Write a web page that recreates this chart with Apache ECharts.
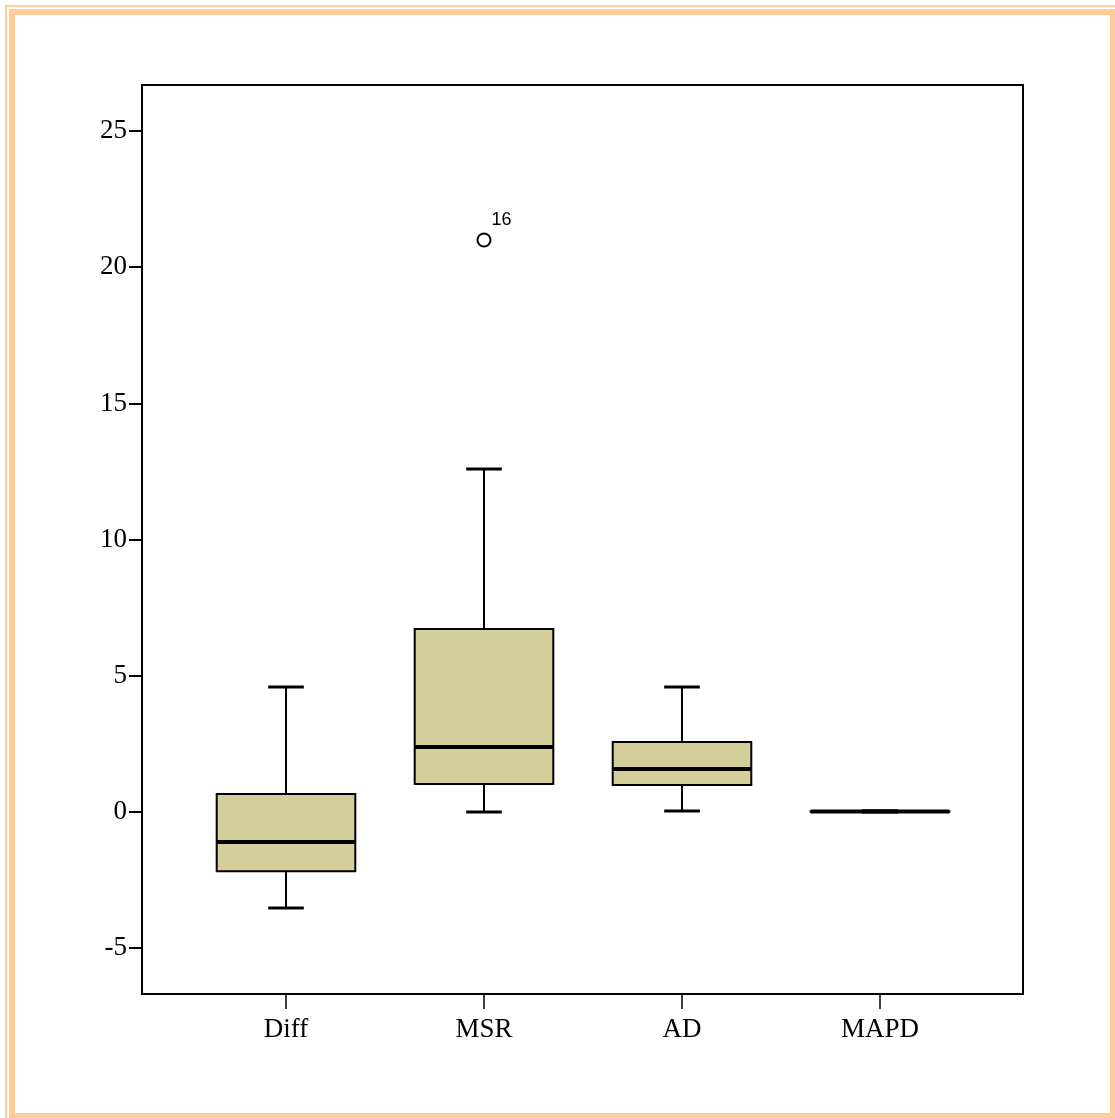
<!DOCTYPE html>
<html>
<head>
<meta charset="utf-8">
<script src="https://cdn.jsdelivr.net/npm/echarts@6/dist/echarts.min.js"></script>
<style>
html,body{margin:0;padding:0;background:#fff;}
#chart{width:1115px;height:1118px;}
</style>
</head>
<body>
<div id="chart"></div>
<script>
// ---- data ----
const categories = ['Diff', 'MSR', 'AD', 'MAPD'];
const minVals    = [-3.52, 0.00, 0.04, 0.00];
const q1Vals     = [-2.17, 1.03, 0.99, 0.01];
const medianVals = [-1.10, 2.39, 1.58, 0.02];
const q3Vals     = [ 0.66, 6.72, 2.57, 0.03];
const maxVals    = [ 4.59, 12.59, 4.59, 0.05];
const outlierCats   = ['MSR'];
const outlierVals   = [21.0];
const outlierLabels = ['16'];
const yTickValues = [-5, 0, 5, 10, 15, 20, 25];

const boxData = categories.map((c, i) => [i, minVals[i], q1Vals[i], medianVals[i], q3Vals[i], maxVals[i]]);
const outlierData = outlierCats.map((c, i) => ({ value: [categories.indexOf(c), outlierVals[i]], name: outlierLabels[i] }));

const Y_MIN = -6.68, Y_MAX = 26.69;

function renderBox(params, api) {
  const idx = api.value(0);
  const pMin = api.coord([idx, api.value(1)]);
  const pQ1 = api.coord([idx, api.value(2)]);
  const pMed = api.coord([idx, api.value(3)]);
  const pQ3 = api.coord([idx, api.value(4)]);
  const pMax = api.coord([idx, api.value(5)]);
  const band = api.size([1, 0])[0];
  const bw = band * 0.70;
  const cw = band * 0.18;
  const x = pMed[0];
  const ls = { stroke: '#000', lineWidth: 2, fill: null };
  const cs = { stroke: '#000', lineWidth: 3, fill: null };
  return {
    type: 'group',
    children: [
      { type: 'line', shape: { x1: x, y1: pQ3[1], x2: x, y2: pMax[1] }, style: ls },
      { type: 'line', shape: { x1: x, y1: pQ1[1], x2: x, y2: pMin[1] }, style: ls },
      { type: 'line', shape: { x1: x - cw / 2, y1: pMax[1], x2: x + cw / 2, y2: pMax[1] }, style: cs },
      { type: 'line', shape: { x1: x - cw / 2, y1: pMin[1], x2: x + cw / 2, y2: pMin[1] }, style: cs },
      { type: 'rect', shape: { x: x - bw / 2, y: pQ3[1], width: bw, height: pQ1[1] - pQ3[1] },
        style: { fill: '#d3ce9a', stroke: '#000', lineWidth: 2 } },
      { type: 'line', shape: { x1: x - bw / 2, y1: pMed[1], x2: x + bw / 2, y2: pMed[1] },
        style: { stroke: '#000', lineWidth: 4, fill: null } }
    ]
  };
}

const chart = echarts.init(document.getElementById('chart'), null, { renderer: 'canvas' });
chart.setOption({
  animation: false,
  backgroundColor: '#fff',
  graphic: [
    { type: 'rect', shape: { x: 6, y: 6, width: 1130, height: 1130 }, style: { fill: null, stroke: '#ffcc99', lineWidth: 2 }, silent: true },
    { type: 'rect', shape: { x: 12, y: 12, width: 1101, height: 1104 }, style: { fill: null, stroke: '#ffcc99', lineWidth: 6 }, silent: true }
  ],
  grid: [
    { left: 142, top: 85, width: 881, height: 909, show: true, borderColor: '#000', borderWidth: 2, backgroundColor: 'transparent' },
    { left: 187, top: 85, width: 792, height: 909 }
  ],
  xAxis: [
    { type: 'value', gridIndex: 0, min: 0, max: 1, show: false },
    { type: 'category', gridIndex: 1, data: categories, boundaryGap: true, position: 'bottom',
      axisLine: { show: false, onZero: false },
      axisTick: { show: true, alignWithLabel: true, length: 15, lineStyle: { color: '#000', width: 1.5 } },
      axisLabel: { color: '#000', fontFamily: 'Liberation Serif', fontSize: 27, margin: 22 },
      splitLine: { show: false } }
  ],
  yAxis: [
    { type: 'value', gridIndex: 0, min: Y_MIN, max: Y_MAX,
      axisLine: { show: false },
      axisTick: { show: true, length: 13, customValues: yTickValues, lineStyle: { color: '#000', width: 2 } },
      axisLabel: { color: '#000', fontFamily: 'Liberation Serif', fontSize: 27, margin: 15, customValues: yTickValues },
      splitLine: { show: false } },
    { type: 'value', gridIndex: 1, min: Y_MIN, max: Y_MAX, show: false, splitLine: { show: false } }
  ],
  series: [
    { type: 'custom', xAxisIndex: 1, yAxisIndex: 1, data: boxData, renderItem: renderBox, clip: false,
      encode: { x: 0, y: [1, 2, 3, 4, 5] } },
    { type: 'scatter', xAxisIndex: 1, yAxisIndex: 1, data: outlierData,
      symbol: 'circle', symbolSize: 13,
      itemStyle: { color: '#fff', borderColor: '#000', borderWidth: 2, opacity: 1 },
      label: { show: true, formatter: p => p.name, position: [15, -21], color: '#000',
               fontFamily: 'Liberation Sans', fontSize: 18 } }
  ]
});
</script>
</body>
</html>
